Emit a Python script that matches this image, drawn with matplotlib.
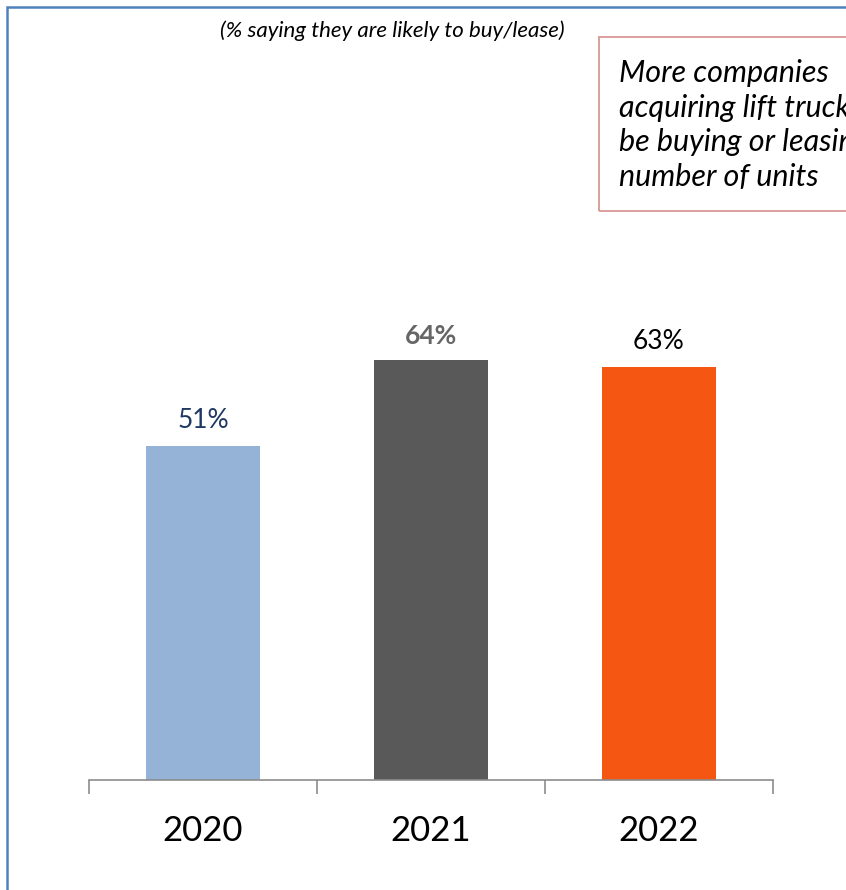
import matplotlib
matplotlib.use("Agg")
import matplotlib.pyplot as plt
from matplotlib.patches import Rectangle

years = ["2020", "2021", "2022"]
shares = [51, 64, 63]
bar_colors = ["#95B3D7", "#595959", "#F55611"]
label_colors = ["#1F3864", "#666666", "#000000"]
label_weights = ["normal", "bold", "normal"]

plt.rcParams["font.family"] = ["Lato", "DejaVu Sans"]

W, H = 846, 890
fig = plt.figure(figsize=(W / 100, H / 100), dpi=100)

# outer frame (runs off the right and bottom edges)
fig.patches.append(Rectangle((7 / W, -0.05), 1.0, 1 - 7 / H + 0.05,
                             transform=fig.transFigure, fill=False,
                             edgecolor="#4F81BD", linewidth=1.8))

ax = fig.add_axes([89 / W, 110 / H, 684 / W, 459 / H])
x = range(len(years))
bars = ax.bar(x, shares, width=0.5, color=bar_colors)
ax.set_xlim(-0.5, 2.5)
ax.set_ylim(0, 70)

for b, v, c, w in zip(bars, shares, label_colors, label_weights):
    ax.annotate(f"{v}%", (b.get_x() + b.get_width() / 2, v),
                xytext=(0, 9), textcoords="offset points",
                ha="center", va="bottom", fontsize=19, color=c, fontweight=w)

for s in ["top", "left", "right"]:
    ax.spines[s].set_visible(False)
ax.spines["bottom"].set_color("#8C8C8C")
ax.spines["bottom"].set_linewidth(1.2)
ax.set_yticks([])
ax.set_xticks(list(x))
ax.set_xticklabels(years, fontsize=25)
ax.tick_params(axis="x", which="major", length=0, pad=25)
ax.set_xticks([-0.5, 0.5, 1.5, 2.5], minor=True)
ax.tick_params(axis="x", which="minor", length=10, width=1.2,
               color="#8C8C8C", direction="out")

fig.text(392 / W, 1 - 31 / H, "(% saying they are likely to buy/lease)",
         ha="center", va="center", fontsize=16, style="italic")

# callout box
fig.patches.append(Rectangle((599 / W, 1 - 211 / H), 0.5, 174 / H,
                             transform=fig.transFigure, fill=False,
                             edgecolor="#D99694", linewidth=1.3))
fig.text(619 / W, 1 - 125 / H,
         "More companies\nacquiring lift trucks will\nbe buying or leasing a larger\nnumber of units",
         ha="left", va="center", fontsize=22, style="italic", linespacing=1.3)

fig.savefig("out.png", dpi=100)
